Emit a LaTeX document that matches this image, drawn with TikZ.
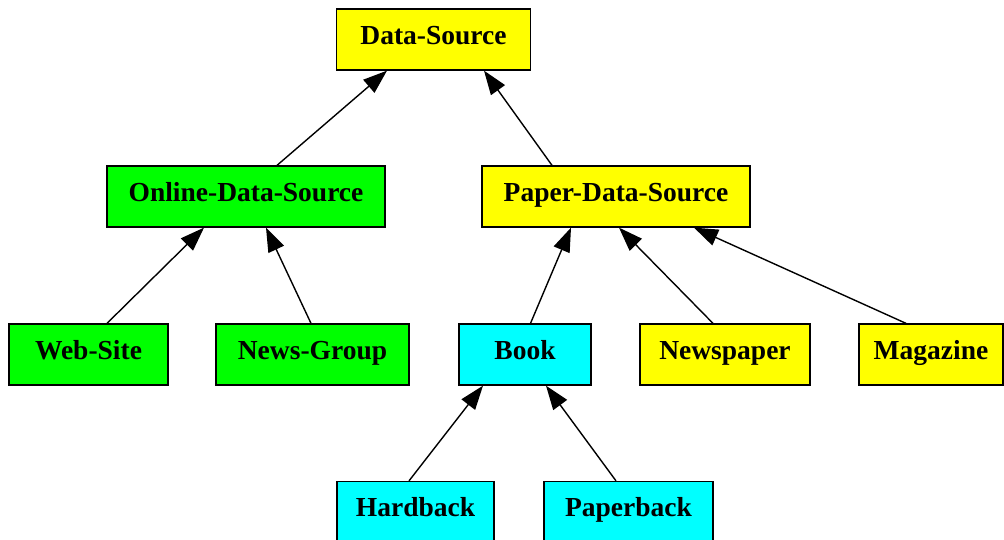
\documentclass[tikz,border=0pt]{standalone}
\usepackage{fontspec}
\setmainfont{Liberation Serif}
\usetikzlibrary{arrows.meta,positioning}
\definecolor{srcyellow}{RGB}{255,255,0}
\definecolor{srcgreen}{RGB}{0,255,0}
\definecolor{srccyan}{RGB}{0,255,255}

\begin{document}
\begin{tikzpicture}[x=1pt,y=-1pt,
    box/.style={draw=black,line width=1.3pt,inner sep=0pt,minimum height=61pt,
      text height=18pt,text depth=9pt,font=\fontsize{27.5}{32}\selectfont\bfseries},
    arr/.style={line width=1.4pt,-{Triangle[length=24pt,width=17pt]}}]
  \useasboundingbox (0,0) rectangle (1004,539);
  \node[box,fill=srcyellow,minimum width=194pt] (ds) at (433.5,39.5) {Data-Source};
  \node[box,fill=srcgreen,minimum width=278pt] (ods) at (246,196.5) {Online-Data-Source};
  \node[box,fill=srcyellow,minimum width=268pt] (pds) at (616,196.5) {Paper-Data-Source};
  \node[box,fill=srcgreen,minimum width=159pt] (web) at (88.5,354.5) {Web-Site};
  \node[box,fill=srcgreen,minimum width=193pt] (news) at (312.5,354.5) {News-Group};
  \node[box,fill=srccyan,minimum width=132pt] (book) at (525,354.5) {Book};
  \node[box,fill=srcyellow,minimum width=170pt] (newsp) at (725,354.5) {Newspaper};
  \node[box,fill=srcyellow,minimum width=144pt] (mag) at (931,354.5) {Magazine};
  \node[box,fill=srccyan,minimum width=157pt] (hard) at (415.5,512) {Hardback};
  \node[box,fill=srccyan,minimum width=169pt] (paperb) at (628.5,512) {Paperback};
  \draw[arr] ([xshift=31pt]ods.north) -- ([xshift=-46.5pt]ds.south);
  \draw[arr] ([xshift=-64pt]pds.north) -- ([xshift=50.5pt]ds.south);
  \draw[arr] ([xshift=18.5pt]web.north) -- ([xshift=-42pt]ods.south);
  \draw[arr] ([xshift=-1.5pt]news.north) -- ([xshift=20pt]ods.south);
  \draw[arr] ([xshift=5.5pt]book.north) -- ([xshift=-45pt]pds.south);
  \draw[arr] ([xshift=-12pt]newsp.north) -- ([xshift=3pt]pds.south);
  \draw[arr] ([xshift=-25pt]mag.north) -- ([xshift=78pt]pds.south);
  \draw[arr] ([xshift=-6.5pt]hard.north) -- ([xshift=-42pt]book.south);
  \draw[arr] ([xshift=-12.5pt]paperb.north) -- ([xshift=21pt]book.south);
\end{tikzpicture}
\end{document}
